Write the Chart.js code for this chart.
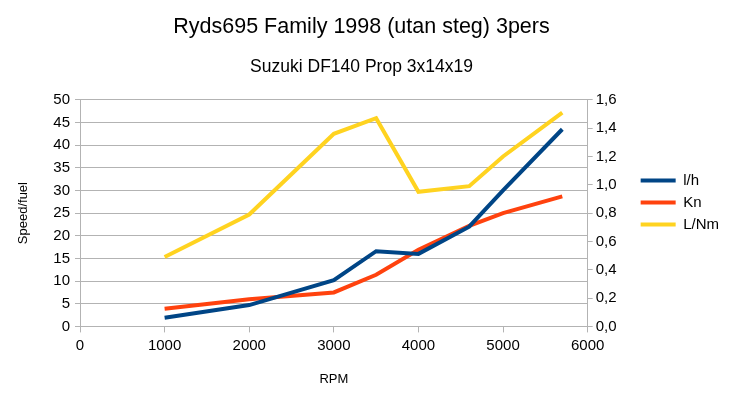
<!DOCTYPE html>
<html>
<head>
<meta charset="utf-8">
<script src="https://cdn.jsdelivr.net/npm/chart.js@4/dist/chart.umd.min.js"></script>
<style>
html,body{margin:0;padding:0;background:#fff;}
#wrap{width:735px;height:396px;}
</style>
</head>
<body>
<div id="wrap"><canvas id="c" width="735" height="396"></canvas></div>
<script>
const rpm = [1000, 2000, 3000, 3500, 4000, 4600, 5000, 5700];
const lh = [1.9, 4.7, 10.2, 16.6, 16.0, 22.0, 30.0, 43.5];
const kn = [3.9, 6.0, 7.5, 11.4, 16.9, 22.2, 25.0, 28.7];
const lnm = [0.49, 0.79, 1.36, 1.47, 0.95, 0.99, 1.20, 1.51];
const seriesNames = ['l/h', 'Kn', 'L/Nm'];
const colors = ['#004586', '#ff420e', '#ffd320'];

function pts(vals){ return rpm.map((x,i)=>({x:x, y:vals[i]})); }

Chart.defaults.font.family = '"Liberation Sans", Arial, sans-serif';
Chart.defaults.color = '#000';

const nudge = {
  id: 'nudge',
  afterLayout(chart) {
    const lg = chart.legend;
    if (lg) { lg.top += 4; lg.bottom += 4; lg.left += 4; lg.right += 4; }
    chart.boxes.forEach(b => {
      if (b !== lg && b.position === 'top' && b.options && b.options.text) {
        b.left -= 9; b.right -= 9;
      }
    });
  }
};

new Chart(document.getElementById('c'), {
  type: 'line',
  data: {
    datasets: [
      {label: seriesNames[0], data: pts(lh), borderColor: colors[0], backgroundColor: colors[0], borderWidth: 4, pointRadius: 0, yAxisID: 'y', tension: 0},
      {label: seriesNames[1], data: pts(kn), borderColor: colors[1], backgroundColor: colors[1], borderWidth: 4, pointRadius: 0, yAxisID: 'y', tension: 0},
      {label: seriesNames[2], data: pts(lnm), borderColor: colors[2], backgroundColor: colors[2], borderWidth: 4, pointRadius: 0, yAxisID: 'y2', tension: 0}
    ]
  },
  plugins: [nudge],
  options: {
    responsive: false,
    animation: false,
    layout: {padding: {top: 10, left: 16, right: 10, bottom: 9}},
    plugins: {
      title: {display: true, text: 'Ryds695 Family 1998 (utan steg) 3pers', font: {size: 21.5, weight: 'normal'}, color: '#000', padding: {top: 4, bottom: 7}},
      subtitle: {display: true, text: 'Suzuki DF140 Prop 3x14x19', font: {size: 17.5, weight: 'normal'}, color: '#000', padding: {top: 10, bottom: 22}},
      legend: {
        position: 'right',
        labels: {usePointStyle: true, pointStyle: 'line', pointStyleWidth: 35, boxHeight: 4, font: {size: 15}, padding: 7, color: '#000'}
      },
      tooltip: {enabled: false}
    },
    scales: {
      x: {
        type: 'linear', min: 0, max: 6000,
        ticks: {stepSize: 1000, font: {size: 15}, color: '#000', padding: 4, callback: v => String(v)},
        grid: {drawOnChartArea: false, drawTicks: true, tickLength: 6, color: '#b3b3b3'},
        border: {color: '#b3b3b3'},
        title: {display: true, text: 'RPM', font: {size: 13}, color: '#000', padding: {top: 13, bottom: 0}}
      },
      y: {
        position: 'left', min: 0, max: 50,
        ticks: {stepSize: 5, font: {size: 15}, color: '#000', padding: 5},
        grid: {color: '#b3b3b3', tickLength: 5},
        border: {color: '#b3b3b3'},
        title: {display: true, text: 'Speed/fuel', font: {size: 13}, color: '#000', padding: {top: 0, bottom: 8}},
        afterFit: s => { s.width = 64; }
      },
      y2: {
        position: 'right', min: 0, max: 1.6,
        ticks: {stepSize: 0.2, font: {size: 15}, color: '#000', padding: 3,
          callback: v => v.toFixed(1).replace('.', ',')},
        grid: {drawOnChartArea: false, color: '#b3b3b3', tickLength: 5},
        border: {color: '#b3b3b3'},
        afterFit: s => { s.width = 42; }
      }
    }
  }
});
</script>
</body>
</html>
